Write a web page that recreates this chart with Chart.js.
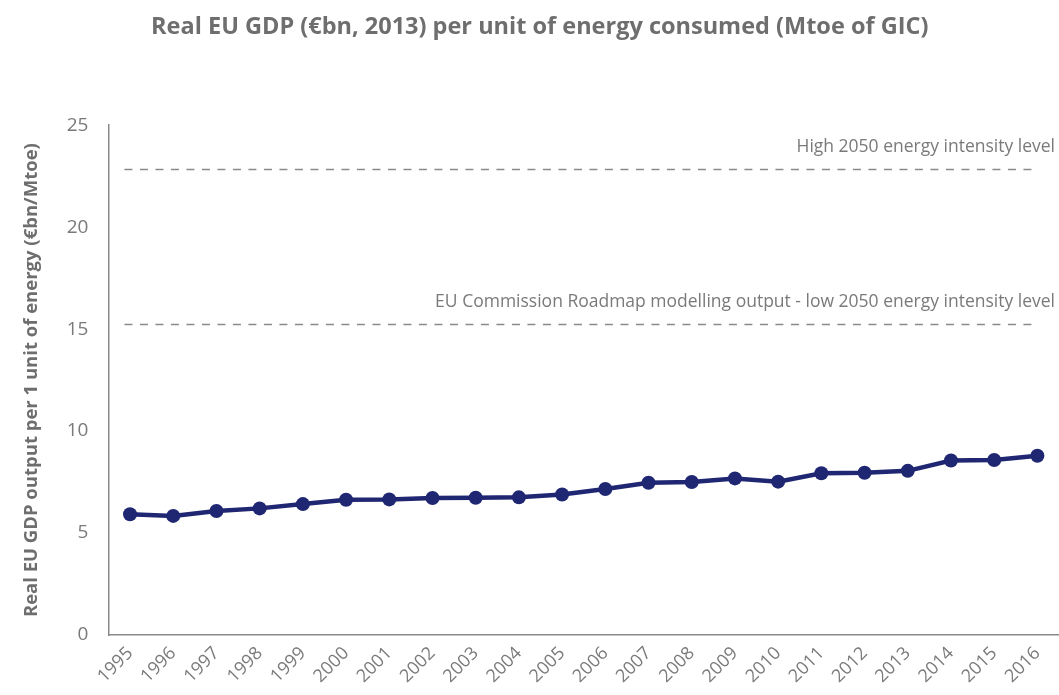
<!DOCTYPE html>
<html>
<head>
<meta charset="utf-8">
<script src="https://cdn.jsdelivr.net/npm/chart.js@4.4.0/dist/chart.umd.min.js"></script>
<style>
    html, body { margin: 0; padding: 0; background: #fff; }
    #wrap { width: 1059px; height: 695px; }
</style>
</head>
<body>
<div id="wrap"><canvas id="gdpChart" width="1059" height="695"></canvas></div>
<script>
// Data
const years = ["1995", "1996", "1997", "1998", "1999", "2000", "2001", "2002", "2003", "2004", "2005",
    "2006", "2007", "2008", "2009", "2010", "2011", "2012", "2013", "2014", "2015", "2016"];
const gdpPerEnergy = [5.92, 5.84, 6.08, 6.21, 6.42, 6.63, 6.65, 6.72, 6.73, 6.75, 6.89,
    7.16, 7.47, 7.50, 7.68, 7.52, 7.93, 7.96, 8.05, 8.56, 8.58, 8.79];
const yTicks = [0, 5, 10, 15, 20, 25];

// Reference levels (dashed lines)
const refLevels = [
    { value: 22.85, label: "High 2050 energy intensity level" },
    { value: 15.25, label: "EU Commission Roadmap modelling output - low 2050 energy intensity level" },
];

const grey = "#6e6e6e";
const navy = "#1f2672";

// Draws the dashed reference lines and their labels
const refLinesPlugin = {
    id: "refLines",
    beforeDatasetsDraw(chart) {
        const { ctx, chartArea, scales } = chart;
        const y = scales.y;
        const xEnd = scales.x.getPixelForValue(years.length - 1);
        ctx.save();
        refLevels.forEach(ref => {
            const py = Math.round(y.getPixelForValue(ref.value)) + 0.5;
            ctx.strokeStyle = "#8a8a8a";
            ctx.lineWidth = 1.3;
            ctx.setLineDash([8, 7.5]);
            ctx.beginPath();
            ctx.moveTo(chartArea.left + 16, py);
            ctx.lineTo(xEnd, py);
            ctx.stroke();

            ctx.setLineDash([]);
            ctx.fillStyle = "#7a7a7a";
            ctx.font = "17.5px 'Open Sans'";
            ctx.textAlign = "right";
            ctx.textBaseline = "alphabetic";
            ctx.fillText(ref.label, chart.width - 4, py - 18);
        });
        ctx.restore();
    },
};

const chart = new Chart(document.getElementById("gdpChart").getContext("2d"), {
    type: "line",
    data: {
        labels: years,
        datasets: [{
            label: "Real EU GDP per unit of energy",
            data: gdpPerEnergy,
            borderColor: navy,
            backgroundColor: navy,
            borderWidth: 4.5,
            pointRadius: 7,
            pointBorderWidth: 0,
            pointBackgroundColor: navy,
            tension: 0,
            fill: false,
        }],
    },
    options: {
        responsive: false,
        animation: false,
        layout: {
            autoPadding: false,
            padding: { left: 20.5, right: 0, top: 0, bottom: 0 },
        },
        plugins: {
            legend: { display: false },
            tooltip: { enabled: false },
            title: {
                display: true,
                text: "Real EU GDP (€bn, 2013) per unit of energy consumed (Mtoe of GIC)",
                color: grey,
                font: { family: "'Open Sans'", size: 23.5, weight: "bold" },
                padding: { top: 13, bottom: 84 },
            },
        },
        scales: {
            x: {
                offset: true,
                grid: { display: false, drawTicks: false },
                border: { display: true, color: "#8a8a8a", width: 1.5 },
                ticks: {
                    color: "#7a7a7a",
                    font: { family: "'Open Sans'", size: 18 },
                    minRotation: 45,
                    maxRotation: 45,
                    padding: 7.8,
                    autoSkip: false,
                },
                // let the plot run to the right edge like the original
                afterFit: scale => { scale.paddingRight = 0; },
            },
            y: {
                min: 0,
                max: 25,
                afterBuildTicks: axis => {
                    axis.ticks = yTicks.map(v => ({ value: v }));
                },
                grid: { display: false, drawTicks: false },
                border: { display: true, color: "#8a8a8a", width: 1.5 },
                ticks: {
                    color: "#7a7a7a",
                    font: { family: "'Open Sans'", size: 19 },
                    padding: 20,
                },
                title: {
                    display: true,
                    text: "Real EU GDP output per 1 unit of energy (€bn/Mtoe)",
                    color: grey,
                    font: { family: "'Open Sans'", size: 18.5, weight: "bold" },
                    padding: { top: 0, bottom: 4 },
                },
            },
        },
    },
    plugins: [refLinesPlugin],
});
</script>
</body>
</html>
